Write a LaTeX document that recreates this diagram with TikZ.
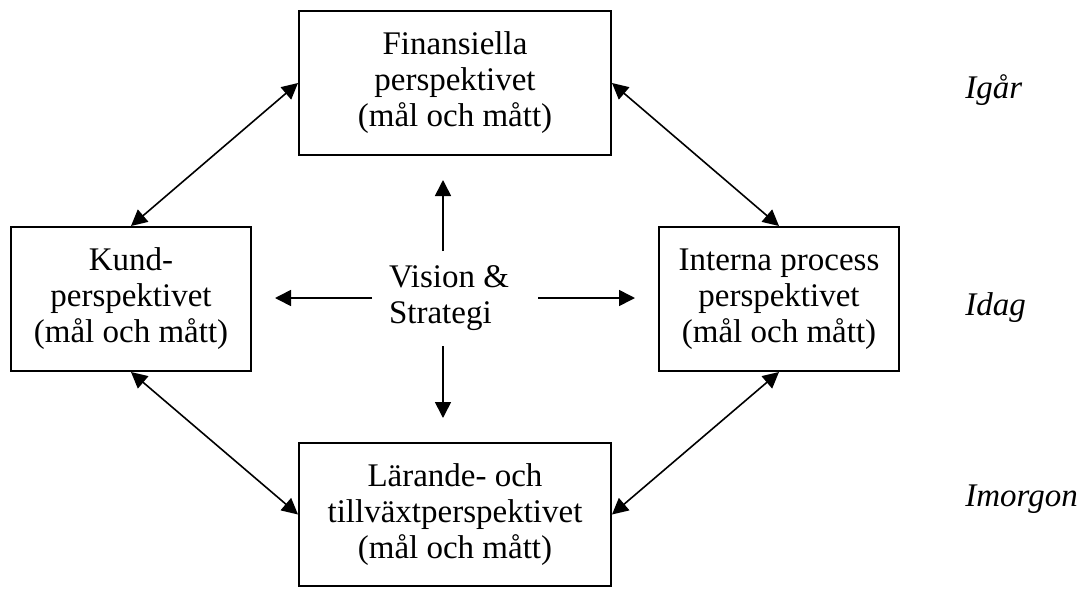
\documentclass[tikz,border=0pt]{standalone}
\usepackage{fontspec}
\setmainfont{Liberation Serif}
\usetikzlibrary{arrows.meta}
\tikzset{
  persp/.style={draw,line width=1pt,minimum width=156pt,minimum height=72pt,align=center,inner sep=0pt},
  biarr/.style={{Triangle[length=8pt,width=8pt]}-{Triangle[length=8pt,width=8pt]},line width=0.8pt},
  onearr/.style={-{Triangle[length=8pt,width=8pt]},line width=0.8pt},
  tidlab/.style={anchor=base west,font=\fontsize{16.5}{18}\selectfont\itshape,inner sep=0pt}
}
\begin{document}
\begin{tikzpicture}[x=0.5pt,y=-0.5pt,font=\fontsize{16.5}{18}\selectfont]
  \useasboundingbox (0,0) rectangle (1078,590);

  \node (fin) [persp] at (455,83) {Finansiella\\perspektivet\\(mål och mått)};
  \node (kund) [persp,minimum width=120pt] at (131,299) {Kund-\\perspektivet\\(mål och mått)};
  \node (intp) [persp,minimum width=120pt] at (779,299) {Interna process\\perspektivet\\(mål och mått)};
  \node (larv) [persp,minimum height=71.5pt] at (455,514.5) {Lärande- och\\tillväxtperspektivet\\(mål och mått)};
  \node (vs) [align=left,inner sep=0pt] at (449,298) {Vision \&\\Strategi};

  \node (igar) [tidlab] at (965,98) {Igår};
  \node (idag) [tidlab] at (965,315) {Idag};
  \node (imorg) [tidlab] at (965,506) {Imorgon};

  \draw[biarr] (kund.north) -- (fin.west);
  \draw[biarr] (fin.east) -- (intp.north);
  \draw[biarr] (kund.south) -- (larv.west);
  \draw[biarr] (intp.south) -- (larv.east);

  \coordinate (vsn) at (443,251);
  \coordinate (finu) at (443,180);
  \coordinate (vss) at (443,346);
  \coordinate (larn) at (443,418);
  \coordinate (vsw) at (372,298);
  \coordinate (kunde) at (275,298);
  \coordinate (vse) at (538,298);
  \coordinate (intw) at (635,298);
  \draw[onearr] (vsn) -- (finu);
  \draw[onearr] (vss) -- (larn);
  \draw[onearr] (vsw) -- (kunde);
  \draw[onearr] (vse) -- (intw);
\end{tikzpicture}
\end{document}
